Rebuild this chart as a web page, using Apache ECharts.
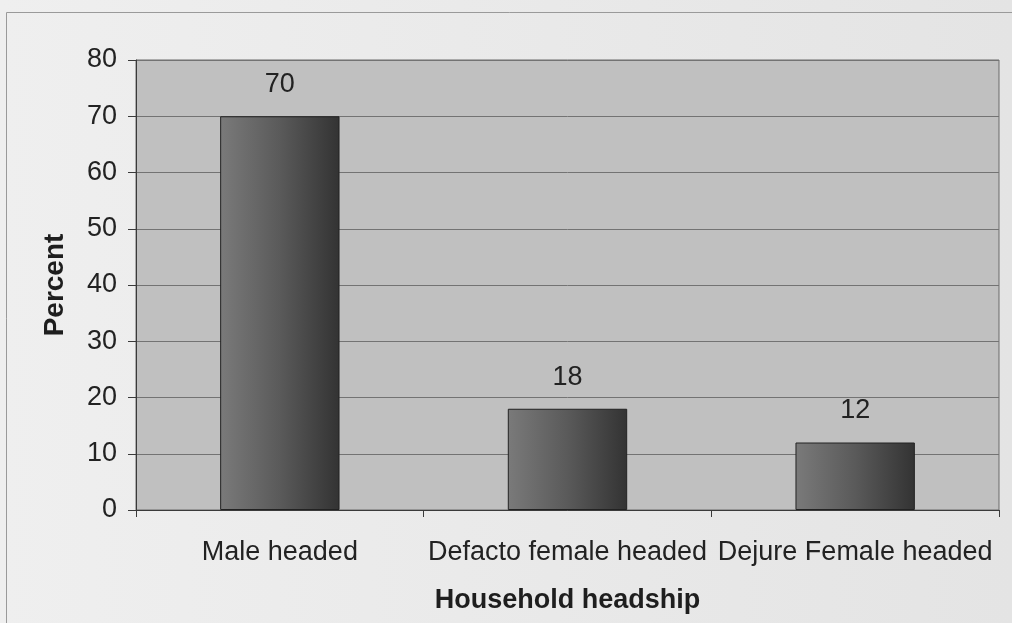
<!DOCTYPE html>
<html>
<head>
<meta charset="utf-8">
<style>
  html, body { margin: 0; padding: 0; background: #e8e8e8; }
  #chart { width: 1012px; height: 623px; }
</style>
<script src="https://cdn.jsdelivr.net/npm/echarts@6/dist/echarts.min.js"></script>
</head>
<body>
<div id="chart"></div>
<script>
// Household headship distribution (percent of households)
const categories = ['Male headed', 'Defacto female headed', 'Dejure Female headed'];
const percentValues = [70, 18, 12];
const yTicks = [0, 10, 20, 30, 40, 50, 60, 70, 80];

const FONT = '"Liberation Sans", Arial, sans-serif';

const chart = echarts.init(document.getElementById('chart'), null, { renderer: 'canvas' });

chart.setOption({
  backgroundColor: {
    type: 'linear', x: 0, y: 0, x2: 1, y2: 0,
    colorStops: [
      { offset: 0, color: '#efefef' },
      { offset: 1, color: '#e4e4e4' }
    ]
  },
  animation: false,
  graphic: [{
    type: 'rect',
    shape: { x: 6.5, y: 12.5, width: 1020, height: 630 },
    style: { fill: 'none', stroke: '#9a9a9a', lineWidth: 1 },
    silent: true
  }],
  grid: {
    left: 136, right: 13, top: 60, bottom: 113,
    show: true,
    backgroundColor: '#c0c0c0',
    borderColor: '#6a6a6a',
    borderWidth: 1
  },
  xAxis: {
    type: 'category',
    data: categories,
    name: 'Household headship',
    nameLocation: 'middle',
    nameGap: 77,
    nameTextStyle: { fontFamily: FONT, fontSize: 27, fontWeight: 'bold', color: '#1e1e1e' },
    axisLine: { show: true, lineStyle: { color: '#3a3a3a', width: 1 } },
    axisTick: { show: true, alignWithLabel: false, length: 7, lineStyle: { color: '#3a3a3a' } },
    axisLabel: { interval: 0, margin: 29, fontFamily: FONT, fontSize: 27, color: '#222' },
    splitLine: { show: false }
  },
  yAxis: {
    type: 'value',
    min: yTicks[0],
    max: yTicks[yTicks.length - 1],
    interval: yTicks[1] - yTicks[0],
    name: 'Percent',
    nameLocation: 'middle',
    nameRotate: 90,
    nameGap: 67,
    nameTextStyle: { fontFamily: FONT, fontSize: 28, fontWeight: 'bold', color: '#1e1e1e' },
    axisLine: { show: true, lineStyle: { color: '#3a3a3a', width: 1 } },
    axisTick: { show: true, length: 8, lineStyle: { color: '#3a3a3a' } },
    axisLabel: { margin: 19, fontFamily: FONT, fontSize: 27, color: '#222' },
    splitLine: { show: true, lineStyle: { color: '#737373', width: 1 } }
  },
  series: [{
    type: 'bar',
    data: percentValues,
    barWidth: '41.5%',
    itemStyle: {
      color: {
        type: 'linear', x: 0, y: 0, x2: 1, y2: 0,
        colorStops: [
          { offset: 0, color: '#7a7a7a' },
          { offset: 0.5, color: '#5a5a5a' },
          { offset: 1, color: '#333333' }
        ]
      },
      borderColor: '#222',
      borderWidth: 1
    },
    label: {
      show: true,
      position: 'top',
      distance: 18,
      fontFamily: FONT,
      fontSize: 27,
      color: '#222'
    }
  }]
});
</script>
</body>
</html>
